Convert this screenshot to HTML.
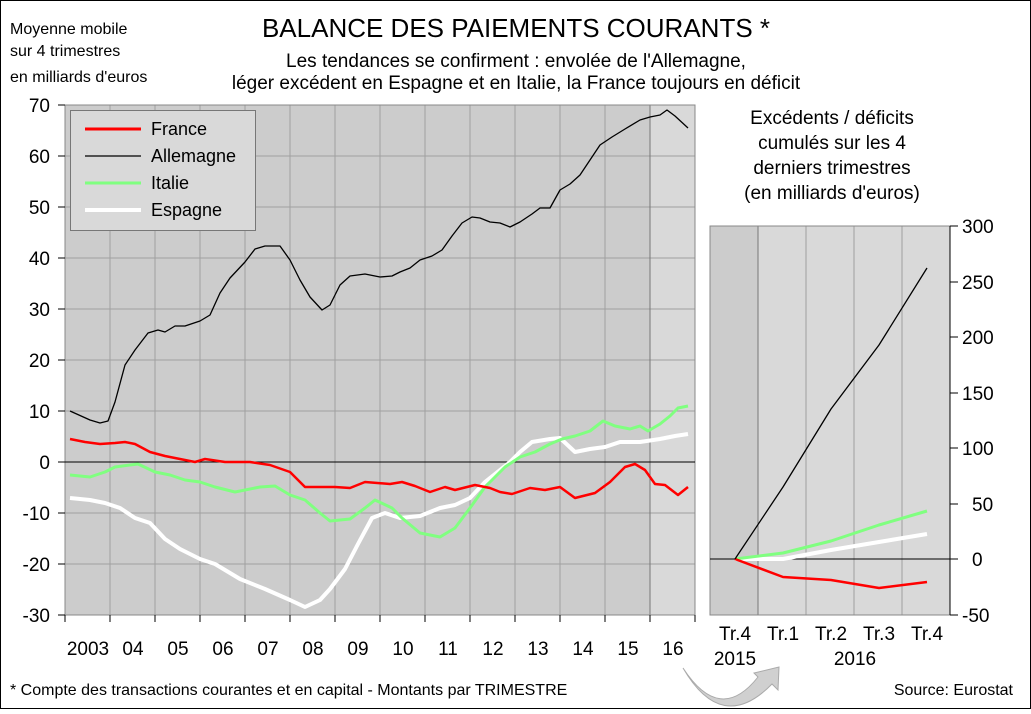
<!DOCTYPE html>
<html><head><meta charset="utf-8"><style>
body{margin:0;background:#fff}
svg text{font-family:"Liberation Sans",sans-serif;fill:#000}
</style></head><body>
<svg width="1031" height="709" viewBox="0 0 1031 709" xmlns="http://www.w3.org/2000/svg">
<rect x="0.5" y="0.5" width="1030" height="708" fill="#fff" stroke="#000"/>
<text x="10" y="34" font-size="16">Moyenne mobile</text>
<text x="10" y="56" font-size="16">sur 4 trimestres</text>
<text x="10" y="82" font-size="16">en milliards d'euros</text>
<text x="516" y="37" font-size="26" text-anchor="middle">BALANCE DES PAIEMENTS COURANTS *</text>
<text x="516" y="67" font-size="19" text-anchor="middle">Les tendances se confirment : envolée de l'Allemagne,</text>
<text x="516" y="89" font-size="19" text-anchor="middle">léger excédent en Espagne et en Italie, la France toujours en déficit</text>
<!-- left plot -->
<rect x="65" y="105" width="585" height="510" fill="#cccccc"/>
<rect x="650" y="105" width="45" height="510" fill="#d9d9d9"/>
<g stroke="#a0a0a0" stroke-width="1">
<path d="M65 156H695M65 207H695M65 258H695M65 309H695M65 360H695M65 411H695M65 513H695M65 564H695"/>
<path d="M110 105V615M155 105V615M200 105V615M245 105V615M290 105V615M335 105V615M380 105V615M425 105V615M470 105V615M515 105V615M560 105V615M605 105V615"/>
</g>
<path d="M650 105V615" stroke="#777"/>
<rect x="65" y="105" width="630" height="510" fill="none" stroke="#888"/>
<path d="M65 462H695" stroke="#000"/>
<g stroke="#000"><path d="M58 105H65M58 156H65M58 207H65M58 258H65M58 309H65M58 360H65M58 411H65M58 462H65M58 513H65M58 564H65M58 615H65"/>
<path d="M65 615V622M110 615V622M155 615V622M200 615V622M245 615V622M290 615V622M335 615V622M380 615V622M425 615V622M470 615V622M515 615V622M560 615V622M605 615V622M650 615V622M695 615V622"/></g>
<g font-size="19" text-anchor="end">
<text x="50" y="112">70</text><text x="50" y="163">60</text><text x="50" y="214">50</text><text x="50" y="265">40</text><text x="50" y="316">30</text><text x="50" y="367">20</text><text x="50" y="418">10</text><text x="50" y="469">0</text><text x="50" y="520">-10</text><text x="50" y="571">-20</text><text x="50" y="622">-30</text></g>
<g font-size="19" text-anchor="middle">
<text x="88" y="655">2003</text><text x="133" y="655">04</text><text x="178" y="655">05</text><text x="223" y="655">06</text><text x="268" y="655">07</text><text x="313" y="655">08</text><text x="358" y="655">09</text><text x="403" y="655">10</text><text x="448" y="655">11</text><text x="493" y="655">12</text><text x="538" y="655">13</text><text x="583" y="655">14</text><text x="628" y="655">15</text><text x="673" y="655">16</text></g>
<g fill="none" stroke-linejoin="round">
<polyline stroke="#fff" stroke-width="4" points="70,498 90,500 105,503 120,508 135,518 150,523 165,539 180,549 200,559 215,564 240,579 265,589 290,600 305,607 320,600 330,589 345,569 358,544 372,518 385,513 400,518 420,516 440,508 455,505 470,498 485,482 510,462 520,452 532,442 550,439 560,438 575,452 590,449 605,447 620,442 640,442 660,439 675,436 688,434"/>
<polyline stroke="#80ff80" stroke-width="3" points="70,475 90,477 105,472 115,467 130,465 138,464 155,472 170,475 185,480 200,482 215,487 235,492 260,487 275,486 290,495 305,500 320,513 330,521 350,519 365,508 375,500 392,508 402,518 420,533 440,537 455,528 470,508 485,487 505,467 520,457 535,452 550,444 562,439 575,436 590,431 603,421 615,426 630,429 640,426 648,431 660,424 670,416 678,408 688,406"/>
<polyline stroke="#ff0000" stroke-width="2.5" points="70,439 85,442 100,444 115,443 125,442 135,444 150,452 165,456 180,459 195,462 205,459 225,462 250,462 270,465 290,472 305,487 320,487 335,487 350,488 365,482 390,484 402,482 415,486 430,492 445,487 455,490 475,485 490,488 500,492 512,494 530,488 545,490 560,487 575,498 595,493 610,482 625,467 635,464 645,470 655,484 665,485 678,495 688,487"/>
<polyline stroke="#000" stroke-width="1.3" points="70,411 90,420 100,423 108,421 115,402 125,365 135,350 148,333 158,330 165,332 175,326 185,326 200,321 210,315 220,293 230,278 245,262 255,249 265,246 280,246 290,260 300,280 310,297 322,310 330,305 340,285 350,276 365,274 380,277 392,276 400,272 410,268 420,260 432,256 442,250 452,236 462,223 472,217 480,218 490,222 500,223 510,227 520,222 532,214 540,208 550,208 560,190 570,184 580,175 590,160 600,145 612,137 625,129 640,120 650,117 660,115 667,110 675,116 688,128"/>
</g>
<!-- legend -->
<rect x="70.5" y="110.5" width="185" height="120" fill="#d9d9d9" stroke="#777"/>
<g stroke-width="3"><path d="M85 129H141" stroke="#f00"/><path d="M85 156H141" stroke="#000" stroke-width="1.3"/><path d="M85 183H141" stroke="#80ff80"/><path d="M85 210H141" stroke="#fff" stroke-width="4"/></g>
<g font-size="18"><text x="151" y="135">France</text><text x="151" y="162">Allemagne</text><text x="151" y="189">Italie</text><text x="151" y="216">Espagne</text></g>
<!-- right -->
<g font-size="19" text-anchor="middle"><text x="832" y="124">Excédents / déficits</text><text x="832" y="149">cumulés sur les 4</text><text x="832" y="174">derniers trimestres</text><text x="832" y="199">(en milliards d'euros)</text></g>
<rect x="710" y="226" width="240" height="389" fill="#d9d9d9"/>
<rect x="710" y="226" width="48" height="389" fill="#cccccc"/>
<path d="M806 226V615M854 226V615M902 226V615" stroke="#a0a0a0"/>
<path d="M758 226V615" stroke="#777"/>
<rect x="710" y="226" width="240" height="389" fill="none" stroke="#888"/>
<path d="M710 559H950" stroke="#000"/>
<path d="M950 226V615M950 226H958M950 282H958M950 337H958M950 393H958M950 448H958M950 504H958M950 559H958M950 615H958" stroke="#000"/>
<g font-size="19"><text x="962" y="233">300</text><text x="962" y="289">250</text><text x="962" y="344">200</text><text x="962" y="400">150</text><text x="962" y="455">100</text><text x="972" y="511">50</text><text x="972" y="566">0</text><text x="962" y="622">-50</text></g>
<g fill="none" stroke-linejoin="round">
<polyline stroke="#fff" stroke-width="4" points="735,559 783,559 831,550 879,542 927,534"/>
<polyline stroke="#80ff80" stroke-width="3" points="735,559 783,553 831,541 879,525 927,511"/>
<polyline stroke="#f00" stroke-width="2.5" points="735,559 783,577 831,580 879,588 927,582"/>
<polyline stroke="#000" stroke-width="1.3" points="735,559 783,487 831,409 879,345 927,268"/>
</g>
<g font-size="19" text-anchor="middle"><text x="735" y="640">Tr.4</text><text x="783" y="640">Tr.1</text><text x="831" y="640">Tr.2</text><text x="879" y="640">Tr.3</text><text x="927" y="640">Tr.4</text><text x="735" y="665">2015</text><text x="855" y="665">2016</text></g>
<path d="M683 668 Q720 725 758 677 L754 673 L779 667 L778 690 L772 684 Q722 735 683 668Z" fill="#d0d0d0" stroke="#aaa"/>
<text x="10" y="695" font-size="16">* Compte des transactions courantes et en capital - Montants par TRIMESTRE</text>
<text x="1013" y="695" font-size="16" text-anchor="end">Source: Eurostat</text>
</svg>
</body></html>
